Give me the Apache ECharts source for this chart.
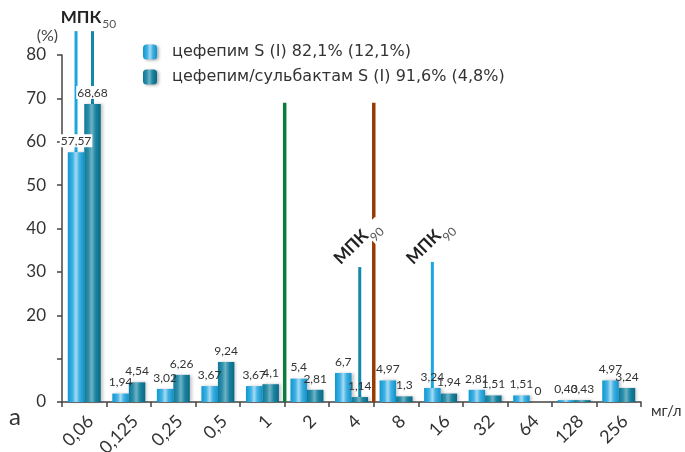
<!DOCTYPE html>
<html>
<head>
<meta charset="utf-8">
<script src="https://cdn.jsdelivr.net/npm/echarts@6/dist/echarts.min.js"></script>
<style>
  html, body { margin: 0; padding: 0; background: #fff; }
  #chart { width: 685px; height: 452px; }
</style>
</head>
<body>
<div id="chart"></div>
<script>
// MIC distribution, mg/l
const categories = ['0,06', '0,125', '0,25', '0,5', '1', '2', '4', '8', '16', '32', '64', '128', '256'];
const cefepime = [57.57, 1.94, 3.02, 3.67, 3.67, 5.4, 6.7, 4.97, 3.24, 2.81, 1.51, 0.43, 4.97];
const cefepimeSulbactam = [68.68, 4.54, 6.26, 9.24, 4.1, 2.81, 1.14, 1.3, 1.94, 1.51, 0, 0.43, 3.24];
const seriesNames = ['цефепим S (I) 82,1% (12,1%)', 'цефепим/сульбактам S (I) 91,6% (4,8%)'];
const yTicks = [0, 10, 20, 30, 40, 50, 60, 70, 80];
const hiddenTickLabels = [10];

// breakpoint lines drawn after these categories, up to these heights
const breakpointAfter = ['1', '4'];
const breakpointTop = [69, 69];

// MIC50 / MIC90 marker lines: [series index, category, top value]
const mic50Markers = [[0, '0,06', 85.5], [1, '0,06', 85.5]];
const mic90Markers = [[1, '4', 31.1], [0, '16', 32.3]];
const mic90LabelLevel = 38.3;

const FONT = 'Lato';
const WIDE_FONT = 'DejaVu Sans';
const categoryGap = 0.26;
const barUnit = (1 - categoryGap) / 2;

const seriesColors = [
  new echarts.graphic.LinearGradient(0, 0, 1, 0, [
    { offset: 0, color: '#0f97cf' },
    { offset: 0.3, color: '#3fb2e4' },
    { offset: 0.5, color: '#a6dbf3' },
    { offset: 0.7, color: '#3fb0e2' },
    { offset: 1, color: '#0f92cb' }
  ]),
  new echarts.graphic.LinearGradient(0, 0, 1, 0, [
    { offset: 0, color: '#0c7898' },
    { offset: 0.25, color: '#2b8ea9' },
    { offset: 0.45, color: '#6fb2c5' },
    { offset: 0.7, color: '#1a839f' },
    { offset: 1, color: '#0a6884' }
  ])
];
const lineColors = ['#19a7dd', '#1289a9'];
const breakpointColors = ['#0b7d3d', '#993a02'];

const chart = echarts.init(document.getElementById('chart'), null, { renderer: 'canvas' });

function barSeries(idx, values) {
  return {
    name: seriesNames[idx],
    type: 'bar',
    xAxisIndex: 0,
    yAxisIndex: 0,
    barGap: '0%',
    barCategoryGap: (categoryGap * 100) + '%',
    z: 2,
    itemStyle: {
      color: seriesColors[idx],
      shadowBlur: 3,
      shadowOffsetX: 2,
      shadowColor: 'rgba(0,0,0,0.22)'
    },
    label: {
      show: true,
      position: 'top',
      distance: 5,
      fontFamily: FONT,
      fontSize: 12,
      color: '#333',
      formatter: p => String(p.value).replace('.', ',')
    },
    data: values.map((v, i) => i === 0
      ? { value: v, label: { backgroundColor: '#fff', padding: [1, 1, 0, 1] } }
      : v)
  };
}

function markerX(seriesIdx, category) {
  const c = categories.indexOf(category);
  return c + 0.5 + (seriesIdx === 0 ? -1 : 1) * barUnit / 2;
}

function markerSeries(marker, values) {
  const [s, cat, top] = marker;
  const x = markerX(s, cat);
  const base = values[s][categories.indexOf(cat)];
  return {
    type: 'line',
    xAxisIndex: 1,
    yAxisIndex: 0,
    silent: true,
    clip: false,
    z: 1,
    symbol: 'none',
    lineStyle: { color: lineColors[s], width: 3 },
    data: [[x, base], [x, top]]
  };
}

const series = [barSeries(0, cefepime), barSeries(1, cefepimeSulbactam)];
const values = [cefepime, cefepimeSulbactam];
mic50Markers.concat(mic90Markers).forEach(m => series.push(markerSeries(m, values)));
breakpointAfter.forEach((cat, i) => {
  const x = categories.indexOf(cat) + 1;
  series.push({
    type: 'line',
    xAxisIndex: 1,
    yAxisIndex: 0,
    silent: true,
    z: 3,
    symbol: 'none',
    lineStyle: { color: breakpointColors[i], width: 3.5 },
    data: [[x, 0], [x, breakpointTop[i]]]
  });
});

chart.setOption({
  animation: false,
  backgroundColor: '#fff',
  textStyle: { fontFamily: FONT },
  grid: { left: 62, right: 44, top: 55, bottom: 50, containLabel: false, outerBoundsMode: 'none' },
  legend: {
    left: 143,
    top: 44,
    orient: 'vertical',
    itemWidth: 14,
    itemHeight: 15,
    itemGap: 9,
    padding: 0,
    data: seriesNames,
    itemStyle: { shadowBlur: 3, shadowOffsetX: 2, shadowOffsetY: 1, shadowColor: 'rgba(0,0,0,0.3)' },
    textStyle: { fontFamily: WIDE_FONT, fontSize: 16, color: '#333', padding: [0, 0, 0, 10] }
  },
  xAxis: [
    {
      type: 'category',
      data: categories,
      name: 'мг/л',
      nameLocation: 'end',
      nameGap: 10,
      nameTextStyle: { fontFamily: FONT, fontSize: 15, color: '#333', verticalAlign: 'top', padding: [2, 0, 0, 0] },
      axisLine: { lineStyle: { color: '#444', width: 1.5 } },
      axisTick: { show: true, alignWithLabel: false, length: 5, lineStyle: { color: '#444', width: 1.5 } },
      axisLabel: {
        interval: 0,
        rotate: 45,
        margin: 10,
        verticalAlign: 'top',
        fontFamily: FONT,
        fontSize: 18,
        color: '#333'
      },
      splitLine: { show: false }
    },
    {
      type: 'value',
      min: 0,
      max: categories.length,
      show: false
    }
  ],
  yAxis: {
    type: 'value',
    position: 'left',
    min: yTicks[0],
    max: yTicks[yTicks.length - 1],
    interval: yTicks[1] - yTicks[0],
    name: '(%)',
    nameLocation: 'end',
    nameGap: 11,
    nameMoveOverlap: false,
    nameTextStyle: { fontFamily: FONT, fontSize: 16, color: '#444', align: 'right', padding: [0, 4, 0, 0] },
    axisLine: { show: true, onZero: false, lineStyle: { color: '#444', width: 1.5 } },
    axisTick: { show: true, inside: false, length: 5, lineStyle: { color: '#444', width: 1.5 } },
    axisLabel: {
      inside: false,
      margin: 16,
      fontFamily: FONT,
      fontSize: 17,
      color: '#333',
      formatter: v => hiddenTickLabels.includes(v) ? '' : String(v)
    },
    splitLine: { show: false }
  },
  series: series
});

// text annotations: МПК50 above the first category, МПК90 next to its markers
function micLabel(x, y, sub, rotation) {
  const children = [];
  if (rotation) {
    children.push({
      type: 'rect',
      z: 49,
      shape: { x: -1, y: -9, width: 19, height: 21 },
      style: { fill: '#fff' }
    });
  }
  children.push(
    {
      type: 'text',
      z: 51,
      x: 0, y: 4,
      style: {
        text: 'МПК', font: 'bold 17px ' + FONT, fill: '#222',
        align: 'right', verticalAlign: 'bottom'
      }
    },
    {
      type: 'text',
      z: 51,
      x: rotation ? 0 : 1, y: rotation ? 11 : 8,
      style: {
        text: sub, font: '12px ' + FONT, fill: '#555',
        align: 'left', verticalAlign: 'bottom'
      }
    }
  );
  return { type: 'group', x: x, y: y, rotation: rotation, z: 50, children: children };
}

const graphics = [];
const p50a = chart.convertToPixel({ xAxisIndex: 1, yAxisIndex: 0 }, [markerX(0, '0,06'), mic50Markers[0][2]]);
const p50b = chart.convertToPixel({ xAxisIndex: 1, yAxisIndex: 0 }, [markerX(1, '0,06'), mic50Markers[1][2]]);
graphics.push(micLabel((p50a[0] + p50b[0]) / 2 + 17, p50a[1] - 9, '50', 0));
mic90Markers.forEach(m => {
  const p = chart.convertToPixel({ xAxisIndex: 1, yAxisIndex: 0 }, [markerX(m[0], m[1]), mic90LabelLevel]);
  graphics.push(micLabel(p[0] + 9, p[1], '90', Math.PI / 4));
});
graphics.push({
  type: 'text',
  left: 9,
  top: 405,
  style: { text: 'а', font: '24px ' + FONT, fill: '#333' }
});
chart.setOption({ graphic: graphics });
</script>
</body>
</html>
